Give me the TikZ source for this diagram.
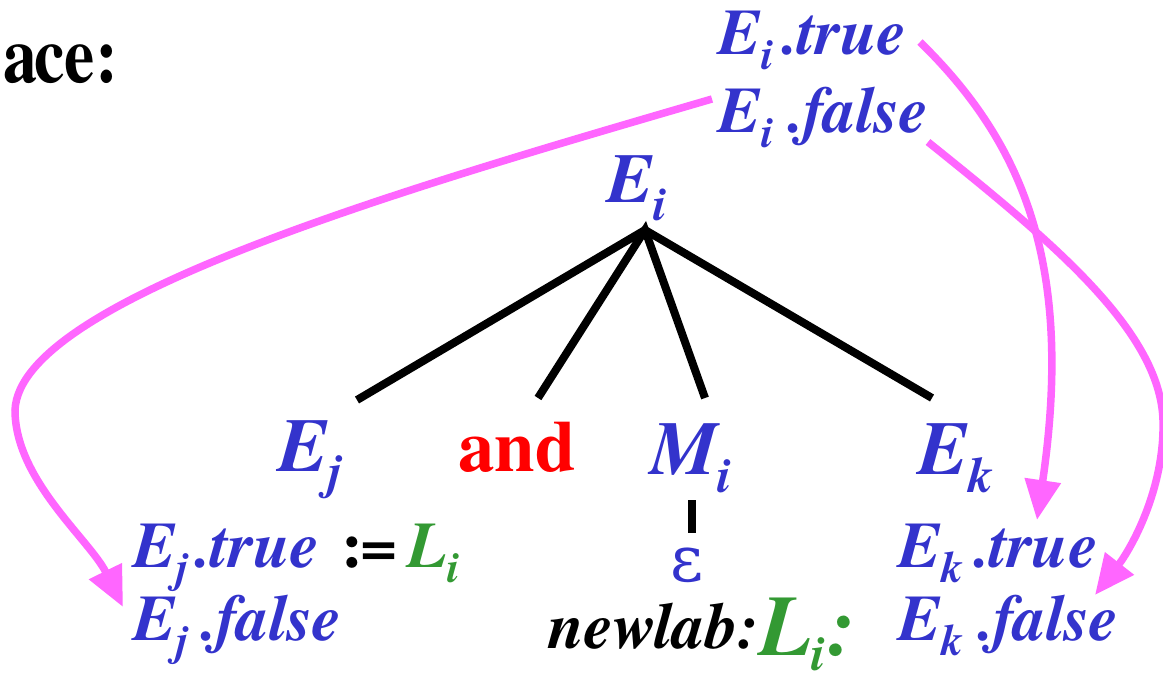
\documentclass[tikz,border=0pt]{standalone}
\usepackage{fontspec}
\setmainfont{texgyretermes}[Extension=.otf, UprightFont=*-regular, BoldFont=*-bold, ItalicFont=*-italic, BoldItalicFont=*-bolditalic]
\newfontfamily\gkfont{DejaVu Serif}
\usetikzlibrary{arrows.meta}
\definecolor{eblue}{RGB}{51,51,204}
\definecolor{pinkc}{RGB}{255,102,255}
\definecolor{egreen}{RGB}{51,153,51}
\newcommand{\fsz}[1]{\fontsize{#1}{#1}\selectfont}
\newcommand{\lsub}[3]{\raisebox{-#1}{\fsz{#2}#3}}
\tikzset{
  lab/.style={anchor=base west, inner sep=0pt, outer sep=0pt, text=eblue, font=\fsz{65}\bfseries\itshape},
  big/.style={anchor=base west, inner sep=0pt, outer sep=0pt, text=eblue, font=\fsz{76}\bfseries\itshape},
  tree/.style={line width=8pt, black},
  link/.style={line width=7.5pt, draw=pinkc, -{Triangle[length=40pt,width=35pt,fill=pinkc]}},
}
\begin{document}
\begin{tikzpicture}[x=1pt,y=-1pt]
\useasboundingbox (0,0) rectangle (1163,677);
\clip (0,0) rectangle (1163,677);
% title fragment
\node[anchor=base east, inner sep=0pt, font=\fsz{80}\bfseries] (title) at (118,82) {\scalebox{0.85}[1]{a\kern-3pt ce:}};
% top labels
\node[lab] (eitrue) at (718,55) {E\lsub{15pt}{44}{i}\kern8pt.true};
\node[lab] (eifalse) at (718,132) {E\lsub{15pt}{44}{i}\kern14pt.false};
% tree
\node[big, font=\fsz{70}\bfseries\itshape] (ei) at (607,202) {E\lsub{18pt}{48}{i}};
\node[big] (ej) at (278,471) {E\lsub{17pt}{50}{j}};
\node[big, text=red, font=\fsz{73}\bfseries] (and) at (458,471) {and};
\node[big] (mi) at (650,474) {M\lsub{18pt}{50}{i}};
\node[big] (ek) at (918,474) {E\lsub{18pt}{50}{k}};
\coordinate (root) at (645,230);
\coordinate (cj) at (357,400);
\coordinate (cand) at (538,398);
\coordinate (cm) at (705,398);
\coordinate (ck) at (932,398);
\draw[tree] (cj) -- (root) -- (ck);
\draw[tree] (cand) -- (root) -- (cm);
% epsilon
\node[inner sep=0pt, text=eblue, font=\fsz{64}\gkfont] (eps) at (687,565) {ε};
\coordinate (mtop) at (692,500);
\coordinate (mbot) at (692,533);
\draw[tree] (mtop) -- (mbot);
% bottom labels
\node[lab] (ejtrue) at (133,567) {E\lsub{15pt}{44}{j}\kern6pt.true\kern22pt\textcolor{black}{\upshape :\kern-2pt=}\kern10pt\textcolor{egreen}{L\lsub{15pt}{44}{i}}};
\node[lab] (ejfalse) at (133,640) {E\lsub{15pt}{44}{j}\kern12pt.false};
\node[lab, text=black] (newlab) at (548,648) {newlab:\raisebox{-7pt}{\textcolor{egreen}{\fsz{86}L\lsub{15pt}{50}{i}\kern2pt:}}};
\node[lab] (ektrue) at (898,567) {E\lsub{15pt}{44}{k}\kern10pt.true};
\node[lab] (ekfalse) at (898,640) {E\lsub{15pt}{44}{k}\kern14pt.false};
% magenta arrows
\coordinate (a1s) at (920,42);
\coordinate (a1e) at (1037,520);
\coordinate (a2s) at (928,142);
\coordinate (a2m) at (1163,420);
\coordinate (a2e) at (1095,595);
\coordinate (a3s) at (712,99);
\coordinate (a3m) at (15,410);
\coordinate (a3e) at (123,607);
\draw[link] (a1s) .. controls (1020,140) and (1075,260) .. (a1e);
\draw[link] (a2s) .. controls (1050,240) and (1160,330) .. (a2m) .. controls (1165,490) and (1130,550) .. (a2e);
\draw[link] (a3s) .. controls (400,190) and (20,300) .. (a3m) .. controls (15,480) and (90,540) .. (a3e);
\end{tikzpicture}
\end{document}
